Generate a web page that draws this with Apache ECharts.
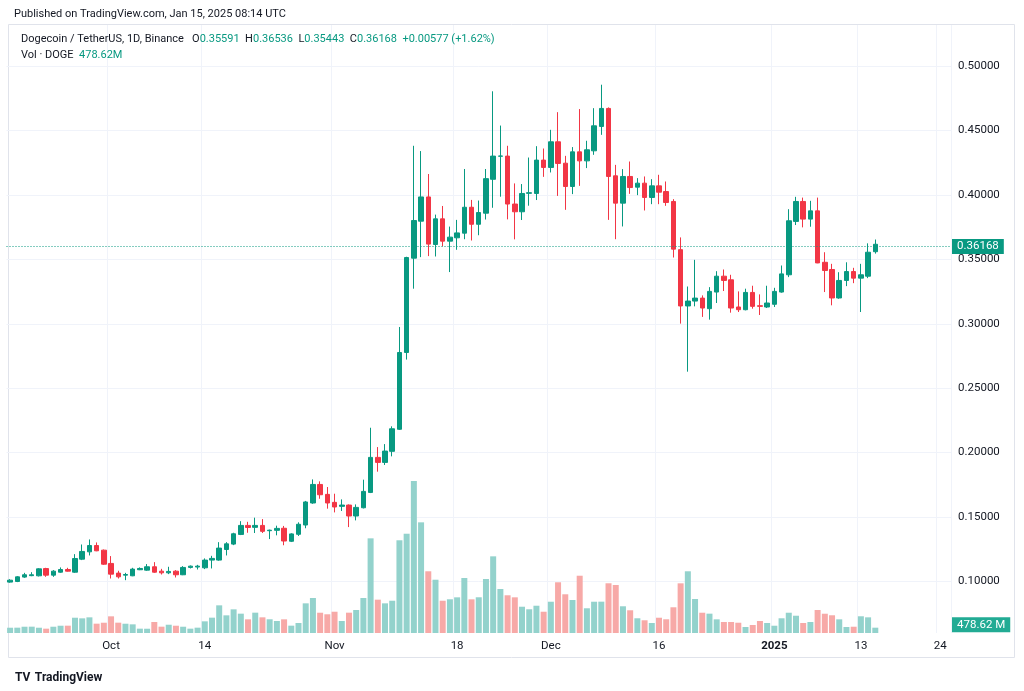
<!DOCTYPE html>
<html>
<head>
<meta charset="utf-8">
<title>Dogecoin / TetherUS, 1D</title>
<script src="https://cdn.jsdelivr.net/npm/echarts@6/dist/echarts.min.js"></script>
<style>
  html, body { margin: 0; padding: 0; background: #fff; }
  #main { width: 1024px; height: 691px; }
</style>
</head>
<body>
<div id="main"></div>
<script>
// DOGEUSDT daily candles (Binance), Sep 17 2024 .. Jan 15 2025
var firstDay = '2024-09-17'
var lastAxisDay = '2025-01-25' // time scale runs on past the last candle

var opens = [
  0.0995, 0.1000, 0.1034, 0.1045, 0.1044, 0.1100, 0.1049, 0.1072, 0.1093, 0.1072,
  0.1173, 0.1230, 0.1279, 0.1243, 0.1140, 0.1065, 0.1049, 0.1044, 0.1091, 0.1088,
  0.1114, 0.1080, 0.1067, 0.1080, 0.1052, 0.1109, 0.1112, 0.1106, 0.1166, 0.1166,
  0.1248, 0.1290, 0.1365, 0.1435, 0.1420, 0.1435, 0.1394, 0.1397, 0.1413, 0.1312,
  0.1366, 0.1438, 0.1609, 0.1753, 0.1676, 0.1614, 0.1583, 0.1593, 0.1508, 0.1572,
  0.1691, 0.1963, 0.1924, 0.2010, 0.2181, 0.2777, 0.3509, 0.3796, 0.3984, 0.3615,
  0.3814, 0.3641, 0.3667, 0.3703, 0.3904, 0.3772, 0.3858, 0.4121, 0.4300, 0.4301,
  0.3929, 0.3869, 0.4012, 0.4011, 0.4270, 0.4213, 0.4412, 0.4246, 0.4065, 0.4334,
  0.4264, 0.4342, 0.4531, 0.4671, 0.4148, 0.3936, 0.4143, 0.4060, 0.4091, 0.3980,
  0.4070, 0.4026, 0.3949, 0.3575, 0.3138, 0.3176, 0.3199, 0.3117, 0.3246, 0.3369,
  0.3341, 0.3130, 0.3109, 0.3243, 0.3140, 0.3130, 0.3151, 0.3246, 0.3380, 0.3794,
  0.3949, 0.3812, 0.3876, 0.3477, 0.3421, 0.3200, 0.3336, 0.3405, 0.3354, 0.3369,
  0.35591
]
var closes = [
  0.1010, 0.1036, 0.1052, 0.1052, 0.1098, 0.1049, 0.1080, 0.1093, 0.1080, 0.1178,
  0.1233, 0.1279, 0.1238, 0.1134, 0.1057, 0.1036, 0.1054, 0.1096, 0.1101, 0.1114,
  0.1072, 0.1067, 0.1078, 0.1052, 0.1109, 0.1119, 0.1119, 0.1166, 0.1179, 0.1259,
  0.1292, 0.1370, 0.1435, 0.1419, 0.1435, 0.1389, 0.1398, 0.1412, 0.1314, 0.1369,
  0.1444, 0.1617, 0.1753, 0.1673, 0.1609, 0.1578, 0.1593, 0.1508, 0.1575, 0.1699,
  0.1963, 0.1924, 0.2012, 0.2185, 0.2777, 0.3514, 0.3801, 0.3984, 0.3618, 0.3814,
  0.3641, 0.3672, 0.3705, 0.3904, 0.3772, 0.3863, 0.4126, 0.4301, 0.4302, 0.3929,
  0.3869, 0.4011, 0.4017, 0.4270, 0.4213, 0.4412, 0.4244, 0.4065, 0.4334, 0.4264,
  0.4350, 0.4536, 0.4671, 0.4143, 0.3936, 0.4143, 0.4057, 0.4091, 0.3980, 0.4070,
  0.4021, 0.3941, 0.3579, 0.3138, 0.3176, 0.3199, 0.3122, 0.3251, 0.3369, 0.3336,
  0.3122, 0.3109, 0.3243, 0.3135, 0.3135, 0.3161, 0.3251, 0.3387, 0.3799, 0.3949,
  0.3812, 0.3876, 0.3472, 0.3413, 0.3200, 0.3336, 0.3405, 0.3354, 0.3380, 0.3555,
  0.36168
]
var lows = [
  0.0990, 0.0995, 0.1028, 0.1041, 0.1039, 0.1036, 0.1036, 0.1067, 0.1077, 0.1067,
  0.1166, 0.1202, 0.1235, 0.1129, 0.1023, 0.1023, 0.1010, 0.1041, 0.1088, 0.1083,
  0.1067, 0.1054, 0.1057, 0.1031, 0.1049, 0.1101, 0.1093, 0.1096, 0.1101, 0.1161,
  0.1202, 0.1282, 0.1360, 0.1378, 0.1376, 0.1376, 0.1329, 0.1358, 0.1281, 0.1306,
  0.1353, 0.1413, 0.1603, 0.1642, 0.1565, 0.1536, 0.1547, 0.1422, 0.1474, 0.1567,
  0.1686, 0.1852, 0.1904, 0.1971, 0.2176, 0.2722, 0.3272, 0.3517, 0.3525, 0.3522,
  0.3600, 0.3401, 0.3574, 0.3656, 0.3646, 0.3687, 0.3809, 0.3900, 0.3986, 0.3810,
  0.3655, 0.3805, 0.3916, 0.3960, 0.4140, 0.4174, 0.3992, 0.3884, 0.4006, 0.4070,
  0.4208, 0.4311, 0.4466, 0.3806, 0.3656, 0.3755, 0.4008, 0.3998, 0.3879, 0.3928,
  0.3928, 0.3915, 0.3514, 0.3001, 0.2628, 0.3135, 0.3053, 0.3032, 0.3161, 0.3254,
  0.3086, 0.3091, 0.3104, 0.3117, 0.3068, 0.3122, 0.3130, 0.3241, 0.3362, 0.3766,
  0.3748, 0.3753, 0.3470, 0.3246, 0.3143, 0.3194, 0.3292, 0.3315, 0.3091, 0.3354,
  0.35443
]
var highs = [
  0.1018, 0.1041, 0.1067, 0.1072, 0.1103, 0.1106, 0.1088, 0.1109, 0.1106, 0.1212,
  0.1287, 0.1326, 0.1303, 0.1248, 0.1197, 0.1083, 0.1067, 0.1106, 0.1109, 0.1135,
  0.1150, 0.1098, 0.1114, 0.1088, 0.1119, 0.1124, 0.1129, 0.1179, 0.1199, 0.1305,
  0.1305, 0.1378, 0.1468, 0.1463, 0.1495, 0.1484, 0.1402, 0.1433, 0.1431, 0.1374,
  0.1459, 0.1625, 0.1792, 0.1777, 0.1733, 0.1681, 0.1637, 0.1598, 0.1598, 0.1790,
  0.2193, 0.2043, 0.2066, 0.2204, 0.2975, 0.3520, 0.4381, 0.4340, 0.4162, 0.3847,
  0.3914, 0.3754, 0.3806, 0.4201, 0.3961, 0.3956, 0.4201, 0.4804, 0.4538, 0.4381,
  0.4089, 0.4084, 0.4290, 0.4378, 0.4360, 0.4505, 0.4642, 0.4303, 0.4371, 0.4666,
  0.4420, 0.4673, 0.4855, 0.4679, 0.4233, 0.4200, 0.4259, 0.4130, 0.4143, 0.4122,
  0.4156, 0.4104, 0.3967, 0.3670, 0.3289, 0.3496, 0.3220, 0.3284, 0.3408, 0.3421,
  0.3380, 0.3251, 0.3272, 0.3295, 0.3228, 0.3295, 0.3279, 0.3452, 0.3889, 0.3985,
  0.3979, 0.3954, 0.3979, 0.3555, 0.3465, 0.3400, 0.3477, 0.3434, 0.3465, 0.3624,
  0.36536
]
// volume in millions of DOGE
var volumes = [
  475, 480, 565, 570, 475, 390, 565, 655, 660, 1375,
  1320, 1410, 840, 925, 1500, 930, 835, 780, 390, 385,
  990, 570, 745, 655, 565, 390, 480, 1050, 1380, 2490,
  1590, 2130, 1740, 1230, 1830, 1410, 1235, 1080, 1230, 660,
  900, 2670, 3150, 1825, 1685, 1915, 1080, 1830, 2070, 3150,
  8520, 3000, 2670, 2905, 8345, 8935, 13680, 9960, 5555, 4795,
  2905, 3035, 3210, 4950, 3030, 3215, 4860, 6900, 3960, 3395,
  3210, 2365, 2135, 2455, 1915, 2815, 4565, 3485, 2970, 5155,
  2225, 2815, 2820, 4475, 4320, 2405, 2045, 1325, 1145, 900,
  1375, 1235, 2315, 4470, 5555, 3060, 1825, 1740, 1230, 990,
  990, 925, 540, 720, 1080, 900, 655, 1325, 1825, 1555,
  900, 990, 2070, 1735, 1595, 1230, 540, 565, 1505, 1410,
  478.62
]

var tickDates = ['2024-10-01', '2024-10-14', '2024-11-01', '2024-11-18', '2024-12-01',
  '2024-12-16', '2025-01-01', '2025-01-13', '2025-01-24']
var tickLabels = ['Oct', '14', 'Nov', '18', 'Dec', '16', '2025', '13', '24']

var upColor = '#089981'
var downColor = '#f23645'
var upVolColor = '#93d2cc'
var downVolColor = '#f7a9a7'
var textColor = '#131722'
var gridColor = '#f0f3fa'
var font = 'Roboto, "Liberation Sans", sans-serif'

// one category per calendar day
var days = []
var d = new Date(firstDay + 'T00:00:00Z')
var stop = new Date(lastAxisDay + 'T00:00:00Z')
while (d <= stop) {
  days.push(d.toISOString().slice(0, 10))
  d = new Date(d.getTime() + 86400000)
}

var candles = opens.map(function (o, i) {
  return [o, closes[i], lows[i], highs[i]]
})
var volumeBars = volumes.map(function (v, i) {
  return {
    value: v,
    itemStyle: { color: closes[i] >= opens[i] ? upVolColor : downVolColor }
  }
})

var last = opens.length - 1
var chg = closes[last] - opens[last]
var chgPct = chg / opens[last] * 100
var lastPrice = closes[last]
var lastVolume = volumes[last]

function isTick (idx) {
  return tickDates.indexOf(days[idx]) !== -1
}

var chartDom = document.getElementById('main')
var myChart = echarts.init(chartDom, null, { renderer: 'canvas' })
var option

option = {
  backgroundColor: '#ffffff',
  animation: false,
  textStyle: { fontFamily: font },
  title: [{
    text: 'Published on TradingView.com, Jan 15, 2025 08:14 UTC',
    left: 9,
    top: 4,
    textStyle: { fontFamily: font, fontSize: 11, fontWeight: 'normal', color: textColor }
  }, {
    text: '{n|Dogecoin / TetherUS, 1D, Binance}   ' +
      '{n|O}{v|' + opens[last].toFixed(5) + '}  ' +
      '{n|H}{v|' + highs[last].toFixed(5) + '}  ' +
      '{n|L}{v|' + lows[last].toFixed(5) + '}  ' +
      '{n|C}{v|' + closes[last].toFixed(5) + '}  ' +
      '{v|+' + chg.toFixed(5) + ' (+' + chgPct.toFixed(2) + '%)}' +
      '\n{n|Vol · DOGE}  {v|' + lastVolume.toFixed(2) + 'M}',
    left: 16,
    top: 26,
    textStyle: {
      fontFamily: font,
      fontSize: 11,
      fontWeight: 'normal',
      lineHeight: 16,
      rich: {
        n: { color: textColor, fontSize: 11, fontFamily: font, lineHeight: 16 },
        v: { color: upColor, fontSize: 11, fontFamily: font, lineHeight: 16 }
      }
    }
  }, {
    text: '{logo|TV} {n|TradingView}',
    left: 10,
    top: 664,
    textStyle: {
      rich: {
        logo: { color: textColor, fontSize: 12, fontWeight: 'bold', fontFamily: font },
        n: { color: textColor, fontSize: 12, fontFamily: font }
      }
    }
  }],
  graphic: [{
    type: 'rect',
    z: -1,
    silent: true,
    shape: { x: 8.5, y: 24.5, width: 1006, height: 633 },
    style: { fill: 'none', stroke: '#e0e3eb', lineWidth: 1 }
  }],
  grid: [{
    // price pane: 0.05..0.55 mapped so that 0.10 -> y 581.5 and 0.50 -> y 66
    left: 6.5,
    right: 73,
    top: 1.6,
    bottom: 45.1
  }, {
    // volume overlay + time scale
    left: 6.5,
    right: 73,
    top: 25,
    bottom: 58
  }],
  xAxis: [{
    type: 'category',
    gridIndex: 0,
    data: days,
    boundaryGap: true,
    show: false
  }, {
    type: 'category',
    gridIndex: 1,
    data: days,
    boundaryGap: true,
    axisLine: { show: false },
    axisTick: { show: false },
    axisLabel: {
      interval: function (idx) { return isTick(idx) },
      margin: 7,
      fontSize: 11.5,
      fontFamily: font,
      color: textColor,
      formatter: function (value) {
        var lbl = tickLabels[tickDates.indexOf(value)]
        return lbl === '2025' ? '{b|' + lbl + '}' : lbl
      },
      rich: {
        b: { fontWeight: 'bold', fontSize: 11.5, fontFamily: font, color: textColor }
      }
    },
    splitLine: {
      show: true,
      interval: function (idx) { return isTick(idx) },
      lineStyle: { color: gridColor, width: 1 }
    }
  }],
  yAxis: [{
    type: 'value',
    gridIndex: 0,
    position: 'right',
    min: 0.05,
    max: 0.55,
    interval: 0.05,
    axisLine: { show: false },
    axisTick: { show: false },
    axisLabel: {
      showMinLabel: false,
      showMaxLabel: false,
      margin: 7,
      fontSize: 11.5,
      fontFamily: font,
      color: textColor,
      formatter: function (v) { return v.toFixed(5) }
    },
    splitLine: {
      show: true,
      showMinLine: false,
      showMaxLine: false,
      lineStyle: { color: gridColor, width: 1 }
    }
  }, {
    type: 'value',
    gridIndex: 1,
    min: 0,
    max: 54720,
    show: false,
    splitLine: { show: false }
  }],
  series: [{
    name: 'Vol',
    type: 'bar',
    xAxisIndex: 1,
    yAxisIndex: 1,
    barWidth: 6,
    z: 1,
    data: volumeBars
  }, {
    name: 'DOGEUSDT',
    type: 'candlestick',
    xAxisIndex: 0,
    yAxisIndex: 0,
    barWidth: 5,
    z: 3,
    itemStyle: {
      color: upColor,
      color0: downColor,
      borderColor: upColor,
      borderColor0: downColor,
      borderWidth: 1
    },
    data: candles,
    markLine: {
      silent: true,
      symbol: 'none',
      lineStyle: { color: upColor, type: [1, 2], width: 1 },
      label: {
        position: 'end',
        distance: 1,
        formatter: lastPrice.toFixed(5),
        backgroundColor: upColor,
        color: '#ffffff',
        fontSize: 11.5,
        fontFamily: font,
        padding: [2, 5, 1, 5]
      },
      data: [{ yAxis: lastPrice }]
    }
  }, {
    // carries the last-volume tag on the right scale
    name: 'VolTag',
    type: 'line',
    xAxisIndex: 1,
    yAxisIndex: 1,
    data: [],
    silent: true,
    markLine: {
      silent: true,
      symbol: 'none',
      lineStyle: { color: 'rgba(0,0,0,0)', width: 0 },
      label: {
        show: true,
        position: 'end',
        distance: 1,
        formatter: lastVolume.toFixed(2) + ' M',
        backgroundColor: '#22ab94',
        color: '#ffffff',
        fontSize: 11.5,
        fontFamily: font,
        padding: [2, 5, 1, 5]
      },
      data: [{ yAxis: lastVolume + 270 }]
    }
  }]
}

option && myChart.setOption(option)
</script>
</body>
</html>
